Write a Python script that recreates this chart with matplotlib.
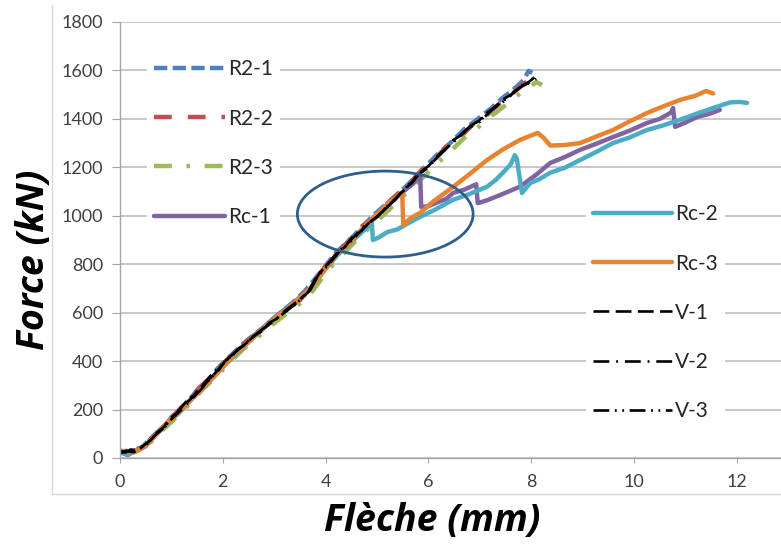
import numpy as np
import matplotlib.pyplot as plt
from matplotlib.patches import Ellipse
from matplotlib.lines import Line2D

# --- data (deflection in mm, force in kN) ---
r21_x = [0.00, 0.12, 0.25, 0.40, 0.55, 0.70, 0.85, 1.00, 1.15, 1.30, 1.50, 1.70, 1.90, 2.10, 2.35, 2.60, 2.85,
         3.10, 3.35, 3.60, 3.75, 3.95, 4.20, 4.45, 4.70, 4.95, 5.20, 5.45, 5.70, 5.95, 6.20, 6.45, 6.70, 6.95,
         7.20, 7.45, 7.65, 7.85, 7.95, 8.02]
r21_F = [32, 20, 38, 40, 70, 102, 125, 168, 195, 230, 278, 318, 370, 412, 462, 508, 548,
         596, 640, 690, 728, 780, 848, 896, 952, 1006, 1052, 1098, 1150, 1205, 1258, 1305, 1358, 1398,
         1440, 1488, 1520, 1560, 1598, 1590]

r22_x = [0.00, 0.15, 0.30, 0.45, 0.60, 0.75, 0.90, 1.10, 1.30, 1.55, 1.80, 2.05, 2.30, 2.60, 2.90, 3.20,
         3.50, 3.70, 3.90, 4.15, 4.40, 4.65, 4.90, 5.15, 5.40, 5.65, 5.90, 6.15, 6.40, 6.65, 6.90, 7.15,
         7.40, 7.65, 7.95]
r22_F = [24, 12, 32, 42, 80, 110, 150, 188, 232, 292, 340, 398, 455, 505, 560, 605,
         652, 700, 766, 830, 885, 948, 985, 1040, 1090, 1138, 1196, 1240, 1296, 1330, 1385, 1418,
         1466, 1508, 1562]

r23_x = [0.00, 0.15, 0.30, 0.50, 0.65, 0.80, 0.95, 1.15, 1.35, 1.60, 1.85, 2.10, 2.35, 2.65, 2.95, 3.25,
         3.55, 3.75, 3.95, 4.20, 4.45, 4.70, 4.95, 5.20, 5.45, 5.70, 5.95, 6.20, 6.45, 6.70, 6.95, 7.20,
         7.45, 7.70, 7.95, 8.10, 8.21]
r23_F = [22, 18, 26, 50, 74, 110, 138, 180, 222, 282, 332, 386, 440, 494, 548, 598,
         645, 690, 748, 812, 866, 922, 968, 1018, 1070, 1118, 1170, 1222, 1270, 1322, 1362, 1408,
         1448, 1492, 1530, 1552, 1540]

rc1_x = [0.00, 0.15, 0.30, 0.50, 0.70, 0.90, 1.15, 1.40, 1.70, 2.00, 2.35, 2.70, 3.05, 3.40, 3.70, 3.95,
         4.25, 4.55, 4.85, 5.15, 5.45, 5.70, 5.84, 5.86, 6.00, 6.17, 6.35, 6.48, 6.70, 6.93, 6.96, 7.14,
         7.40, 7.78, 8.10, 8.37, 8.65, 8.95, 9.25, 9.59, 9.90, 10.25, 10.50, 10.72, 10.76, 10.80, 11.00,
         11.23, 11.45, 11.67]
rc1_F = [26, 16, 30, 52, 98, 142, 192, 248, 312, 378, 452, 522, 588, 645, 700, 772,
         850, 906, 968, 1030, 1090, 1132, 1168, 1036, 1040, 1055, 1070, 1094, 1108, 1130, 1052, 1064,
         1086, 1120, 1170, 1218, 1242, 1272, 1296, 1325, 1350, 1383, 1400, 1426, 1445, 1367, 1385,
         1408, 1420, 1437]

rc2_x = [0.00, 0.15, 0.30, 0.50, 0.70, 0.90, 1.15, 1.40, 1.70, 2.00, 2.35, 2.70, 3.05, 3.40, 3.70, 3.95,
         4.25, 4.55, 4.80, 4.90, 4.92, 5.05, 5.19, 5.40, 5.58, 5.84, 6.10, 6.48, 6.80, 7.14, 7.30, 7.45,
         7.60, 7.68, 7.72, 7.82, 7.98, 8.15, 8.37, 8.65, 8.95, 9.25, 9.59, 9.90, 10.25, 10.55, 10.89,
         11.20, 11.54, 11.87, 12.05, 12.20]
rc2_F = [28, 14, 28, 48, 96, 140, 186, 244, 308, 375, 448, 518, 585, 642, 698, 768,
         842, 902, 950, 968, 900, 912, 932, 944, 966, 996, 1022, 1066, 1090, 1120, 1146, 1178,
         1212, 1250, 1236, 1094, 1135, 1150, 1178, 1198, 1230, 1262, 1300, 1322, 1354, 1372, 1396,
         1420, 1445, 1468, 1470, 1466]

rc3_x = [0.00, 0.12, 0.25, 0.40, 0.55, 0.70, 0.85, 1.00, 1.20, 1.40, 1.65, 1.90, 2.15, 2.45, 2.75, 3.05,
         3.35, 3.60, 3.75, 3.95, 4.20, 4.45, 4.70, 4.95, 5.20, 5.40, 5.49, 5.51, 5.65, 5.84, 6.10, 6.48,
         6.80, 7.14, 7.45, 7.78, 7.98, 8.13, 8.25, 8.37, 8.65, 8.95, 9.25, 9.59, 9.90, 10.25, 10.55,
         10.89, 11.20, 11.40, 11.54]
rc3_F = [26, 30, 22, 36, 62, 96, 130, 162, 200, 245, 296, 352, 412, 470, 528, 582,
         632, 680, 712, 768, 838, 884, 944, 995, 1048, 1080, 1096, 962, 990, 1012, 1060, 1119,
         1172, 1230, 1274, 1313, 1330, 1342, 1320, 1290, 1292, 1300, 1326, 1354, 1388, 1424, 1450,
         1478, 1496, 1515, 1505]

v1_x = [0.00, 0.10, 0.22, 0.35, 0.48, 0.60, 0.72, 0.85, 0.98, 1.10, 1.23, 1.36, 1.50, 1.62, 1.75, 1.88,
        2.05, 2.18, 2.30, 2.45, 2.59, 2.75, 2.90, 3.05, 3.25, 3.40, 3.55, 3.68, 3.72, 3.89, 4.05, 4.22,
        4.38, 4.53, 4.70, 4.86, 5.02, 5.19, 5.35, 5.51, 5.68, 5.84, 6.00, 6.17, 6.33, 6.48, 6.65, 6.81,
        6.98, 7.14, 7.30, 7.45, 7.62, 7.78, 7.95, 8.10, 8.17]
v1_F = [30, 22, 35, 30, 55, 75, 105, 128, 165, 185, 218, 240, 275, 295, 330, 350,
        402, 420, 452, 470, 502, 522, 558, 575, 615, 632, 665, 688, 712, 765, 800, 846,
        872, 915, 938, 975, 998, 1038, 1065, 1108, 1135, 1180, 1205, 1245, 1272, 1312, 1335, 1370,
        1392, 1426, 1448, 1480, 1502, 1533, 1552, 1578, 1572]

v2_x = [0.00, 0.14, 0.28, 0.42, 0.56, 0.70, 0.84, 1.00, 1.18, 1.38, 1.58, 1.80, 2.02, 2.25, 2.50, 2.75,
        3.00, 3.25, 3.50, 3.66, 3.80, 4.00, 4.25, 4.50, 4.75, 5.00, 5.25, 5.50, 5.75, 6.00, 6.25, 6.50,
        6.75, 7.00, 7.25, 7.50, 7.75, 7.95, 8.10]
v2_F = [24, 30, 26, 46, 66, 98, 120, 160, 196, 240, 284, 338, 392, 438, 482, 528,
        566, 614, 655, 685, 740, 792, 852, 902, 958, 996, 1050, 1100, 1160, 1200, 1262, 1306,
        1358, 1388, 1440, 1478, 1526, 1548, 1565]

v3_x = [0.00, 0.13, 0.26, 0.40, 0.54, 0.68, 0.82, 0.96, 1.12, 1.30, 1.50, 1.72, 1.95, 2.20, 2.45, 2.72,
        2.98, 3.25, 3.50, 3.70, 3.85, 4.05, 4.30, 4.55, 4.80, 5.05, 5.30, 5.55, 5.80, 6.05, 6.30, 6.55,
        6.80, 7.05, 7.30, 7.55, 7.80, 8.05]
v3_F = [20, 28, 24, 42, 60, 94, 118, 152, 190, 236, 270, 330, 380, 430, 476, 524,
        565, 608, 652, 692, 752, 796, 860, 906, 962, 1004, 1058, 1110, 1168, 1214, 1268, 1318,
        1366, 1402, 1452, 1488, 1532, 1558]

labels = ["R2-1", "R2-2", "R2-3", "Rc-1", "Rc-2", "Rc-3", "V-1", "V-2", "V-3"]
xs = [r21_x, r22_x, r23_x, rc1_x, rc2_x, rc3_x, v1_x, v2_x, v3_x]
Fs = [r21_F, r22_F, r23_F, rc1_F, rc2_F, rc3_F, v1_F, v2_F, v3_F]

colors = ["#4F81BD", "#C0504D", "#9BBB59", "#8064A2", "#4BACC6", "#E8832F", "black", "black", "black"]
styles = [(0, (3.0, 1.2)), (0, (4.0, 3.6)), (0, (4.0, 3.3, 0.8, 3.3)), "-", "-", "-",
          (0, (6.0, 2.4)), (0, (6.0, 2.6, 0.7, 2.6)), (0, (6.0, 2.1, 0.7, 2.1, 0.7, 2.1))]
widths = [3.2, 3.2, 3.2, 3.2, 3.2, 3.2, 1.9, 1.9, 1.9]

ytick_vals = np.arange(0, 1801, 200)
xtick_vals = np.arange(0, 13, 2)

plt.rcParams['font.family'] = ['Lato', 'DejaVu Sans']

fig = plt.figure(figsize=(7.81, 5.44), dpi=100)
ax = fig.add_axes([120 / 781, 86 / 544, 661 / 781, 436 / 544])

handles = []
for x, F, c, ls, lw, lab in zip(xs, Fs, colors, styles, widths, labels):
    h, = ax.plot(x, F, color=c, linestyle=ls, linewidth=lw, label=lab,
                 solid_capstyle='round', dash_capstyle='butt')
    handles.append(h)

ax.add_patch(Ellipse((5.16, 1007), 3.42, 355, fill=False, edgecolor="#2E5E8E", linewidth=2.0, zorder=5))

ax.set_xlim(0, 661 / 51.4)
ax.set_ylim(0, 1800)
ax.set_xticks(xtick_vals)
ax.set_yticks(ytick_vals)
ax.grid(axis='y', color='#BFBFBF', linewidth=1.2)
ax.set_axisbelow(True)
for s in ['top', 'right']:
    ax.spines[s].set_visible(False)
for s in ['left', 'bottom']:
    ax.spines[s].set_color('#A6A6A6')
    ax.spines[s].set_linewidth(1.0)
ax.tick_params(axis='y', direction='out', length=6, color='#A6A6A6', labelsize=13, labelcolor='#404040', pad=6)
ax.tick_params(axis='x', direction='out', length=3.5, color='#A6A6A6', labelsize=13, labelcolor='#404040', pad=8)

leg_kw = dict(frameon=True, facecolor='white', edgecolor='none', framealpha=1, fancybox=False,
              fontsize=15, labelcolor='#262626', handletextpad=0.15, labelspacing=1.4,
              borderpad=0.35, borderaxespad=0)
leg1 = ax.legend(handles[:4], labels[:4], loc='center left', bbox_to_anchor=(0.52, 1300),
                 bbox_transform=ax.transData, handlelength=3.4, **leg_kw)
ax.add_artist(leg1)
ax.legend(handles[4:], labels[4:], loc='center left', bbox_to_anchor=(9.06, 600),
          bbox_transform=ax.transData, handlelength=3.8, **leg_kw)

title_font = ['Open Sans', 'DejaVu Sans']
fig.text(34 / 781, 1 - 260 / 544, "Force (kN)", rotation=90, ha='center', va='center', family=title_font,
         fontsize=27, fontweight='bold', fontstyle='italic', color='black')
fig.text(432 / 781, 1 - 521 / 544, "Flèche (mm)", ha='center', va='center', family=title_font,
         fontsize=27, fontweight='bold', fontstyle='italic', color='black')

# light plot-area border (left and bottom)
fig.add_artist(Line2D([52 / 781, 52 / 781], [1 - 494 / 544, 1 - 5 / 544], color='#D9D9D9', linewidth=1.0))
fig.add_artist(Line2D([52 / 781, 1.0], [1 - 494 / 544, 1 - 494 / 544], color='#D9D9D9', linewidth=1.0))

fig.savefig("out.png", dpi=100)
